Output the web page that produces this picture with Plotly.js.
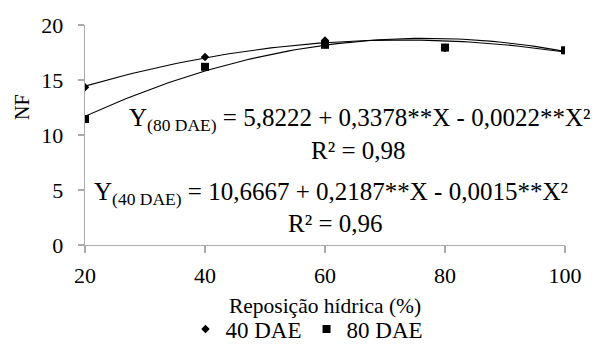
<!DOCTYPE html>
<html>
<head>
<meta charset="utf-8">
<script src="https://cdn.plot.ly/plotly-3.0.1.min.js"></script>
<style>
  html, body { margin: 0; padding: 0; background: #ffffff; }
  #chart { width: 608px; height: 348px; }
</style>
</head>
<body>
<div id="chart"></div>
<script>
// Reposição hídrica (%) levels
const reposicao = [20, 40, 60, 80, 100];

// Number of leaves (NF) observed at each level
const nf40DAE = [14.35, 17.1, 18.6, 17.9, 17.7];
const nf80DAE = [11.45, 16.2, 18.2, 17.95, 17.7];

// Quadratic regression coefficients [b0, b1, b2]
const coef40DAE = [10.6667, 0.2187, -0.0015];
const coef80DAE = [5.8222, 0.3378, -0.0022];

// Labels
const seriesNames = ['40 DAE', '80 DAE'];
const eq80Text = 'Y<sub>(80 DAE)</sub> = 5,8222 + 0,3378**X - 0,0022**X²';
const r2_80Text = 'R² = 0,98';
const eq40Text = 'Y<sub>(40 DAE)</sub> = 10,6667 + 0,2187**X - 0,0015**X²';
const r2_40Text = 'R² = 0,96';

// Smooth regression curves over the axis range
function curve(c) {
  const xs = [], ys = [];
  for (let x = reposicao[0]; x <= reposicao[reposicao.length - 1] + 1e-9; x += 1) {
    xs.push(x);
    ys.push(c[0] + c[1] * x + c[2] * x * x);
  }
  return { xs, ys };
}
const fit40 = curve(coef40DAE);
const fit80 = curve(coef80DAE);

const serif = 'Liberation Serif';

const traces = [
  { x: reposicao, y: nf40DAE, mode: 'markers', name: seriesNames[0],
    marker: { symbol: 'diamond', size: 6.5, color: '#000' } },
  { x: reposicao, y: nf80DAE, mode: 'markers', name: seriesNames[1],
    marker: { symbol: 'square', size: 8, color: '#000' } },
  { x: fit40.xs, y: fit40.ys, mode: 'lines', line: { color: '#000', width: 1.1 },
    showlegend: false, hoverinfo: 'skip' },
  { x: fit80.xs, y: fit80.ys, mode: 'lines', line: { color: '#000', width: 1.1 },
    showlegend: false, hoverinfo: 'skip' }
];

// Plot area spans x 85..565 px and y 25..245 px
const px = v => (v - 85) / 480;
const py = v => (245 - v) / 220;

const annFont = { family: serif, size: 25, color: '#000' };
const ann = (x, y, text) => ({
  xref: 'paper', yref: 'paper', x: px(x), y: py(y), text: text,
  xanchor: 'center', yanchor: 'middle', showarrow: false, font: annFont
});

const layout = {
  width: 608, height: 348,
  margin: { l: 85, r: 43, t: 25, b: 103, autoexpand: false },
  paper_bgcolor: '#fff', plot_bgcolor: '#fff',
  font: { family: serif, size: 22, color: '#000' },
  xaxis: {
    range: [20, 100], tickvals: [20, 40, 60, 80, 100],
    showgrid: false, zeroline: false, showline: true,
    linecolor: '#ababab', linewidth: 1.3,
    ticks: 'outside', ticklen: 7, tickcolor: '#ababab', tickwidth: 1.3,
    ticklabelstandoff: 3,
    tickfont: { family: serif, size: 22, color: '#000' },
    title: { text: 'Reposição hídrica (%)', font: { family: serif, size: 21.5, color: '#000' }, standoff: 11 }
  },
  yaxis: {
    range: [0, 20], tickvals: [0, 5, 10, 15, 20],
    showgrid: false, zeroline: false, showline: true,
    linecolor: '#ababab', linewidth: 1.3,
    ticks: 'outside', ticklen: 6, tickcolor: '#ababab', tickwidth: 1.3,
    ticklabelstandoff: 10,
    tickfont: { family: serif, size: 22, color: '#000' }
  },
  showlegend: true,
  legend: {
    orientation: 'h', x: px(307), xanchor: 'center', y: py(329), yanchor: 'middle',
    font: { family: serif, size: 23, color: '#000' },
    itemwidth: 30, bgcolor: 'rgba(0,0,0,0)'
  },
  annotations: [
    { xref: 'paper', yref: 'paper', x: px(22), y: py(107), text: 'NF', textangle: -90,
      xanchor: 'center', yanchor: 'middle', showarrow: false,
      font: { family: serif, size: 20, color: '#000' } },
    ann(359, 120, eq80Text),
    ann(358, 150, r2_80Text),
    ann(331, 193, eq40Text),
    ann(335, 223, r2_40Text)
  ]
};

Plotly.newPlot('chart', traces, layout, { displayModeBar: false, staticPlot: true });
</script>
</body>
</html>
